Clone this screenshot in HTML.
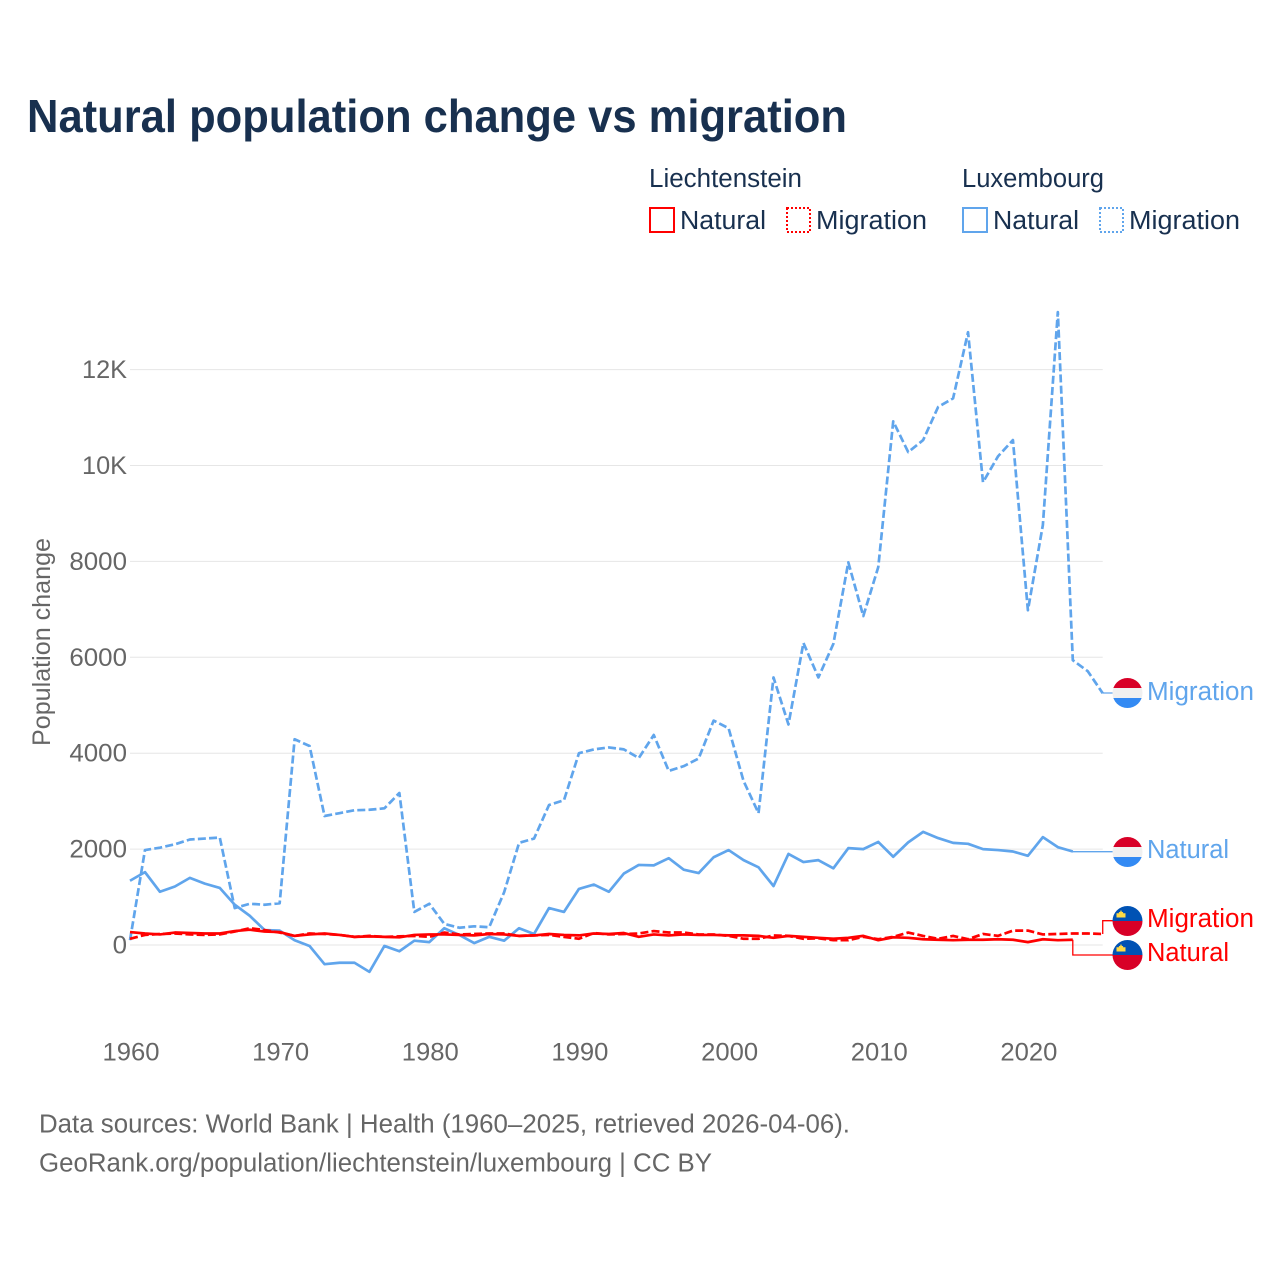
<!DOCTYPE html>
<html lang="en">
<head>
<meta charset="utf-8">
<title>Natural population change vs migration</title>
<style>
html,body{margin:0;padding:0;background:#fff;width:1280px;height:1280px;overflow:hidden}
svg{display:block;font-family:"Liberation Sans",sans-serif}
</style>
</head>
<body>
<svg id="chart" xmlns="http://www.w3.org/2000/svg" width="1280" height="1280" viewBox="0 0 1280 1280">
  <defs>
    <clipPath id="flag-clip"><circle cx="0" cy="0" r="15"/></clipPath>
    <g id="flag-lu" clip-path="url(#flag-clip)">
      <rect x="-15" y="-15" width="30" height="10" fill="#d80027"/>
      <rect x="-15" y="-5" width="30" height="10" fill="#f0f0f0"/>
      <rect x="-15" y="5" width="30" height="10" fill="#338af3"/>
    </g>
    <g id="flag-li" clip-path="url(#flag-clip)">
      <rect x="-15" y="-15" width="30" height="15" fill="#0052b4"/>
      <rect x="-15" y="0" width="30" height="15" fill="#d80027"/>
      <path d="M-11-3.5v-4.2h2.4v-1.3h1.4v-1.4h1.4v1.4h1.4v1.3h2.4v4.2z" fill="#ffda44"/>
    </g>
  </defs>

  <text x="27" y="132" font-size="46" font-weight="700" fill="#18304f" textLength="820" lengthAdjust="spacingAndGlyphs">Natural population change vs migration</text>

  <g font-size="25.5" fill="#18304f">
    <text x="649" y="187" textLength="153" lengthAdjust="spacingAndGlyphs">Liechtenstein</text>
    <text x="962" y="187" textLength="142" lengthAdjust="spacingAndGlyphs">Luxembourg</text>
    <rect x="650" y="208" width="24" height="24" fill="none" stroke="#ff0000" stroke-width="2"/>
    <text x="680" y="229" textLength="86" lengthAdjust="spacingAndGlyphs">Natural</text>
    <rect x="787" y="208" width="23" height="24" fill="none" stroke="#ff0000" stroke-width="2" stroke-dasharray="2 2"/>
    <text x="816" y="229" textLength="111" lengthAdjust="spacingAndGlyphs">Migration</text>
    <rect x="963" y="208" width="24" height="24" fill="none" stroke="#60a5ec" stroke-width="2"/>
    <text x="993" y="229" textLength="86" lengthAdjust="spacingAndGlyphs">Natural</text>
    <rect x="1100" y="208" width="23" height="24" fill="none" stroke="#60a5ec" stroke-width="2" stroke-dasharray="2 2"/>
    <text x="1129" y="229" textLength="111" lengthAdjust="spacingAndGlyphs">Migration</text>
  </g>

  <g id="grid"></g>
  <g id="y-ticks" font-size="25" fill="#666666" text-anchor="end"></g>
  <g id="x-ticks" font-size="25" fill="#666666" text-anchor="middle"></g>
  <text transform="translate(50,642) rotate(-90)" text-anchor="middle" font-size="25" fill="#666666" textLength="208" lengthAdjust="spacingAndGlyphs">Population change</text>

  <g id="series"></g>

  <g font-size="25.5">
    <use href="#flag-lu" x="1127.5" y="693"/>
    <text x="1147" y="700" fill="#60a5ec" textLength="107" lengthAdjust="spacingAndGlyphs">Migration</text>
    <use href="#flag-lu" x="1127.5" y="852"/>
    <text x="1147" y="858" fill="#60a5ec" textLength="82" lengthAdjust="spacingAndGlyphs">Natural</text>
    <use href="#flag-li" x="1127.5" y="921"/>
    <text x="1147" y="927" fill="#ff0000" textLength="107" lengthAdjust="spacingAndGlyphs">Migration</text>
    <use href="#flag-li" x="1127.5" y="955"/>
    <text x="1147" y="961" fill="#ff0000" textLength="82" lengthAdjust="spacingAndGlyphs">Natural</text>
  </g>

  <g font-size="25.5" fill="#666666">
    <text x="39" y="1132.5" textLength="811" lengthAdjust="spacingAndGlyphs">Data sources: World Bank | Health (1960–2025, retrieved 2026-04-06).</text>
    <text x="39" y="1171.5" textLength="673" lengthAdjust="spacingAndGlyphs">GeoRank.org/population/liechtenstein/luxembourg | CC BY</text>
  </g>
</svg>
<script>
var startYear = 1960;
var xTickYears = [1960, 1970, 1980, 1990, 2000, 2010, 2020];
var yTickValues = [0, 2000, 4000, 6000, 8000, 10000, 12000];
var yTickLabels = ["0", "2000", "4000", "6000", "8000", "10K", "12K"];

var luxMigration = [100,1980,2030,2100,2200,2220,2240,770,860,840,870,4290,4150,2690,2750,2810,2820,2850,3170,690,860,440,360,390,370,1100,2130,2220,2920,3020,4000,4080,4120,4080,3900,4380,3630,3730,3890,4680,4520,3420,2750,5580,4600,6300,5580,6280,7980,6860,7880,10920,10280,10530,11220,11400,12780,9650,10190,10530,6980,8760,13200,5940,5710,5250];
var luxNatural = [1340,1520,1110,1220,1400,1280,1190,840,610,310,300,100,-20,-400,-370,-370,-560,-20,-130,90,60,350,210,40,170,90,350,230,770,690,1170,1260,1110,1490,1670,1660,1810,1570,1500,1830,1980,1770,1620,1230,1900,1730,1770,1600,2020,2000,2150,1840,2140,2360,2230,2130,2110,2000,1980,1950,1860,2250,2040,1950];
var liNatural = [270,240,220,260,250,240,240,290,320,280,270,190,220,240,210,170,180,170,160,210,220,220,210,200,230,220,190,200,230,210,200,240,230,250,170,220,200,220,210,210,200,200,190,150,190,170,150,130,150,190,100,160,150,120,110,100,110,110,120,110,60,120,100,110];
var liMigration = [130,210,230,240,220,210,220,280,350,310,260,190,240,230,210,170,190,170,180,190,170,260,220,230,240,240,190,200,210,170,130,250,220,230,240,290,260,260,220,220,190,130,130,200,190,130,140,100,100,170,120,170,260,190,130,190,120,230,190,300,300,220,230,240,240,230];

var NS = "http://www.w3.org/2000/svg";
function xScale(year) { return 130 + (year - 1960) * 14.965; }
function yScale(v) { return 945 - v * 0.04795; }
var LEFT = xScale(1960);
var RIGHT = xScale(2025);

var gridG = document.getElementById("grid");
var yG = document.getElementById("y-ticks");
var xG = document.getElementById("x-ticks");
var seriesG = document.getElementById("series");

yTickValues.forEach(function (v, i) {
  var line = document.createElementNS(NS, "line");
  
  
  line.setAttribute("x1", LEFT);
  line.setAttribute("x2", RIGHT);
  line.setAttribute("y1", yScale(v));
  line.setAttribute("y2", yScale(v));
  line.setAttribute("stroke", "#e6e6e6");
  line.setAttribute("stroke-width", "1");
  gridG.appendChild(line);

  var t = document.createElementNS(NS, "text");
  
  
  t.setAttribute("x", 127);
  t.setAttribute("y", yScale(v) + 8.5);
  var label = yTickLabels[i];
  var hasK = label.indexOf("K") >= 0;
  t.setAttribute("textLength", hasK ? 45 : label.length * 14.4);
  t.setAttribute("lengthAdjust", "spacingAndGlyphs");
  t.textContent = label;
  yG.appendChild(t);
});

xTickYears.forEach(function (yr) {
  var t = document.createElementNS(NS, "text");
  
  
  t.setAttribute("x", xScale(yr) + 1);
  t.setAttribute("y", 1060.5);
  t.setAttribute("textLength", 57);
  t.setAttribute("lengthAdjust", "spacingAndGlyphs");
  t.textContent = String(yr);
  xG.appendChild(t);
});

function pathFor(values) {
  return values.map(function (v, i) {
    return (i ? "L" : "M") + xScale(startYear + i).toFixed(2) + " " + yScale(v).toFixed(2);
  }).join("");
}

function drawLine(values, color, dashed) {
  var p = document.createElementNS(NS, "path");
  p.setAttribute("d", pathFor(values));
  p.setAttribute("fill", "none");
  p.setAttribute("stroke", color);
  p.setAttribute("stroke-width", "2.7");
  p.setAttribute("stroke-linejoin", "round");
  if (dashed) p.setAttribute("stroke-dasharray", "8 3.2");
  seriesG.appendChild(p);
  return p;
}

function drawConnector(values, color, labelY) {
  var lastX = xScale(startYear + values.length - 1);
  var lastY = yScale(values[values.length - 1]);
  var c = document.createElementNS(NS, "path");
  var d = "M" + lastX.toFixed(2) + " " + lastY.toFixed(2) + "V" + labelY + "H1113";
  c.setAttribute("d", d);
  c.setAttribute("fill", "none");
  c.setAttribute("stroke", color);
  c.setAttribute("stroke-width", "1.3");
  seriesG.appendChild(c);
  return c;
}

var c1 = drawConnector(luxMigration, "#60a5ec", 693);


var c2 = drawConnector(luxNatural, "#60a5ec", 851.7);


var c3 = drawConnector(liMigration, "#ff0000", 920.7);


var c4 = drawConnector(liNatural, "#ff0000", 955);



var l1 = drawLine(luxMigration, "#60a5ec", true);


var l2 = drawLine(luxNatural, "#60a5ec", false);


var l3 = drawLine(liMigration, "#ff0000", true);


var l4 = drawLine(liNatural, "#ff0000", false);


</script>
</body>
</html>
